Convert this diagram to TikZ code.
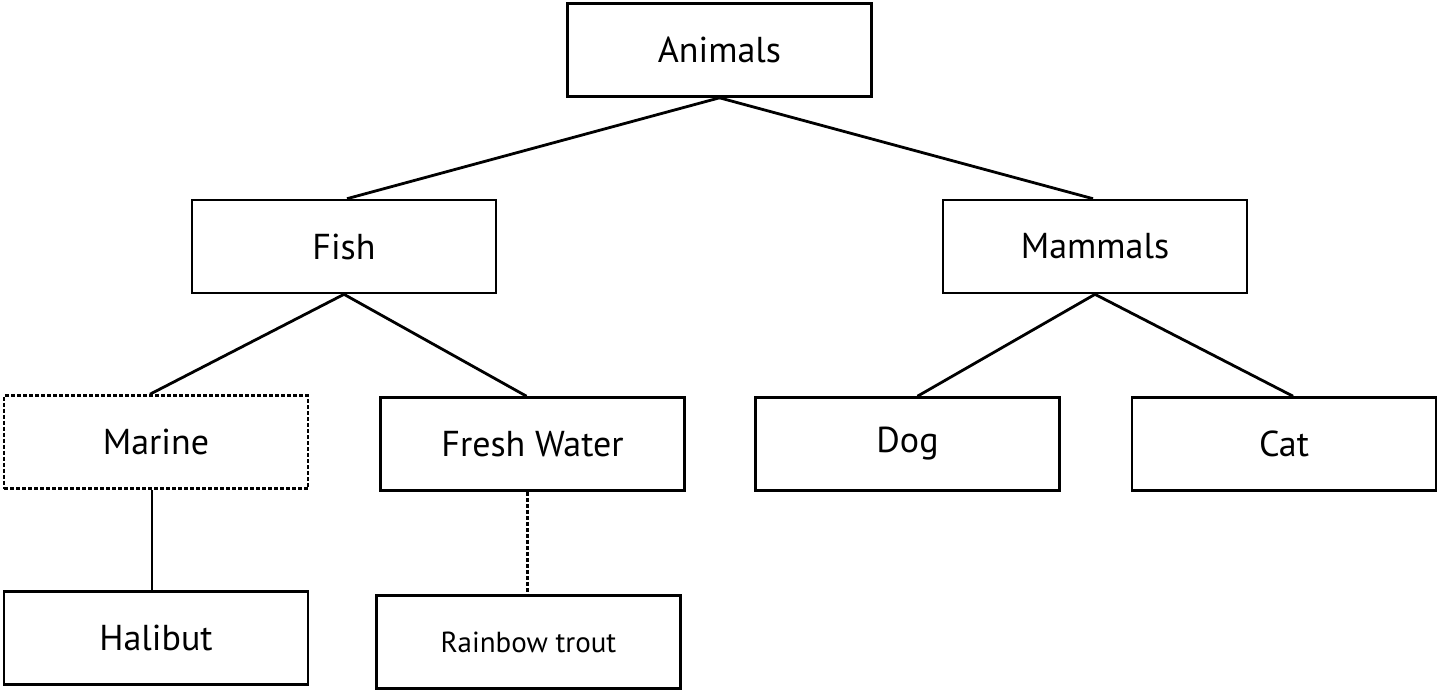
\documentclass[tikz,border=0pt]{standalone}
\usepackage{fontspec}
\setmainfont{PT Sans}
\begin{document}
\begin{tikzpicture}[x=0.5pt,y=-0.5pt,
  box/.style={draw,line width=1.3pt,minimum width=152pt,minimum height=46.5pt,inner sep=0pt,font=\fontsize{18}{20}\selectfont},
  conn/.style={line width=1.4pt},
  dsh/.style={dash pattern=on 2pt off 1pt}]
\useasboundingbox (0,0) rectangle (1440,692);
\node[box] (animals) at (719.5,50) {Animals};
\node[box] (fish) at (344,246.5) {Fish};
\node[box] (mammals) at (1095,246.5) {Mammals};
\node[box,dsh] (marine) at (156,442) {Marine};
\node[box] (fresh) at (532.5,444) {Fresh Water};
\node[box] (dog) at (907.5,444) {Dog};
\node[box] (cat) at (1284,444) {Cat};
\node[box] (halibut) at (156,638) {Halibut};
\node[box,font=\fontsize{14.5}{16}\selectfont] (trout) at (528.5,642) {Rainbow trout};
\draw[conn] (animals.south) -- ([xshift=1.5pt]fish.north);
\draw[conn] (animals.south) -- ([xshift=-1pt]mammals.north);
\draw[conn] (fish.south) -- ([xshift=-3pt]marine.north);
\draw[conn] (fish.south) -- ([xshift=-3pt]fresh.north);
\draw[conn] (mammals.south) -- ([xshift=5pt]dog.north);
\draw[conn] (mammals.south) -- ([xshift=4.5pt]cat.north);
\draw[conn] ([xshift=-2pt]marine.south) -- ([xshift=-2pt]halibut.north);
\draw[conn,dsh] ([xshift=-2.5pt]fresh.south) -- ([xshift=-0.5pt]trout.north);
\end{tikzpicture}
\end{document}
